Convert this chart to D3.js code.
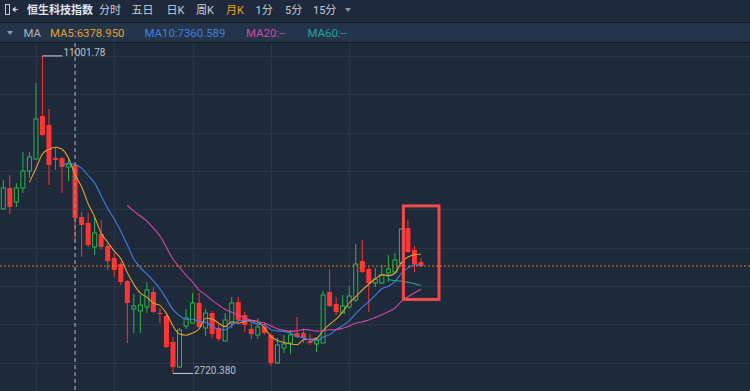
<!DOCTYPE html>
<html>
<head>
<meta charset="utf-8">
<script src="https://cdn.jsdelivr.net/npm/d3@7"></script>
<style>
  body { margin: 0; background: #1e293a; }
  svg { display: block; }
</style>
</head>
<body>
<div id="chart"></div>
<script>
const width = 750, height = 391;

// monthly candles, Aug 2020 - Dec 2025
const months = [
  "2020-08","2020-09","2020-10","2020-11","2020-12",
  "2021-01","2021-02","2021-03","2021-04","2021-05","2021-06","2021-07","2021-08","2021-09","2021-10","2021-11","2021-12",
  "2022-01","2022-02","2022-03","2022-04","2022-05","2022-06","2022-07","2022-08","2022-09","2022-10","2022-11","2022-12",
  "2023-01","2023-02","2023-03","2023-04","2023-05","2023-06","2023-07","2023-08","2023-09","2023-10","2023-11","2023-12",
  "2024-01","2024-02","2024-03","2024-04","2024-05","2024-06","2024-07","2024-08","2024-09","2024-10","2024-11","2024-12",
  "2025-01","2025-02","2025-03","2025-04","2025-05","2025-06","2025-07","2025-08","2025-09","2025-10","2025-11","2025-12"
];
const open  = [7009,7557,7192,7557,8000, 8313,9435,9200,8339,8339,8105,8157,6800,6644,6018,6357,6044,
  5731,5574,5131,4401,4348,4453,4844,4296,4218,3540,2888,3957, 4035,4557,3905,4296,3905,3566,4035,4583,4244,3879,3722,3931,
  3722,2992,3383,3514,3774,3774,3566,3488,3514,4844,4531,4296, 4453,4635,5652,5444,5079,5079,5340,5366,5600,6513,5940,5626];
const high  = [7765,7896,7687,8496,8496, 10295,11001.78,9617,8600,8365,8313,8183,6931,6904,6774,6722,6122,
  5861,5626,5157,4792,4766,5105,4974,4427,4270,3670,3905,4401, 4818,4818,4401,4348,4009,4296,4714,4714,4322,4062,4166,4062,
  3774,3644,3722,3853,4192,3853,3748,3670,4870,5444,4714,4766, 5000,6096,6200,5496,5470,5548,5809,5861,6513,6722,6044,5731];
const low   = [6983,6878,7061,7426,7817, 8287,8900,7635,8026,7426,7739,6148,5757,6018,5809,5940,5418,
  5235,5027,3514,3774,3774,4296,4296,4035,3383,2720.38,2862,3879, 4035,3905,3696,3644,3566,3566,3905,4035,3801,3618,3618,3722,
  2914,2966,3253,3227,3644,3514,3462,3279,3514,4453,4244,4296, 4401,4583,5340,4322,4974,5053,5105,5340,5574,5861,5366,5496];
const close = [7557,7061,7557,8000,8365, 9356,8939,8157,8287,8105,8183,6774,6592,6070,6383,6018,5652,
  5418,5105,4557,4479,4505,4896,4322,4270,3409,2888,3853,4166, 4557,3931,4296,3748,3618,4114,4557,4114,3983,3748,3931,3774,
  2992,3462,3488,3722,3670,3644,3514,3592,4766,4479,4322,4479, 4740,5574,5366,5079,5183,5287,5444,5679,6487,5887,5574,5522];

const gridValues = [3000,4000,5000,6000,7000,8000,9000,10000,11000];
const maPeriods = [5, 10, 20, 60];
const maColors = ["#e2a132", "#3f7fe6", "#cf4aa6", "#26a39c"];
const maLabels = ["MA5:6378.950", "MA10:7360.589", "MA20:--", "MA60:--"];
const tabs = ["分时","五日","日K","周K","月K","1分","5分","15分"];
const crossMonth = "2021-07";
const boxFrom = "2025-09", boxTo = "2025-12", boxTop = 7090, boxBottom = 4650;

const upColor = "#2fb44c", downColor = "#ff3434", bg = "#1e293a";

const svg = d3.select("#chart").append("svg")
  .attr("width", width).attr("height", height)
  .style("font-family", "Roboto, 'Noto Sans CJK SC', sans-serif");

// header bars
svg.append("rect").attr("width", width).attr("height", 22).attr("fill", "#1e2a3b");
svg.append("rect").attr("y", 23).attr("width", width).attr("height", 19).attr("fill", "#243449");
svg.append("rect").attr("y", 22).attr("width", width).attr("height", 1).attr("fill", "#141b27");
svg.append("rect").attr("y", 42).attr("width", width).attr("height", 1).attr("fill", "#141b27");
svg.append("rect").attr("y", 43).attr("width", width).attr("height", height - 43).attr("fill", bg);

// back icon
svg.append("rect").attr("x", 5.5).attr("y", 4.5).attr("width", 4).attr("height", 10)
  .attr("fill", "none").attr("stroke", "#c9ced6");
svg.append("path").attr("d", "M12,9.5 L15.5,6.5 L15.5,12.5 Z M15,9 h3 v1 h-3 Z").attr("fill", "#c9ced6");

svg.append("text").attr("x", 27).attr("y", 13.5)
  .attr("fill", "#e1e5eb").attr("font-size", 11).attr("font-weight", "bold")
  .attr("font-family", "'Noto Sans CJK SC', sans-serif")
  .text("恒生科技指数");

const tabX = [99, 131.5, 166.5, 196, 226, 255.5, 285, 313];
svg.selectAll(".tab").data(tabs).join("text")
  .attr("class", "tab")
  .attr("x", (d, i) => tabX[i]).attr("y", 13.5)
  .attr("font-size", 11)
  .attr("fill", d => d === "月K" ? "#f0a024" : "#c9ced6")
  .text(d => d);
svg.append("path").attr("d", "M345,8 h6 l-3,4 Z").attr("fill", "#8d96a4");

// MA legend row
svg.append("path").attr("d", "M7,31 h6 l-3,4 Z").attr("fill", "#8d96a4");
svg.append("text").attr("x", 23.5).attr("y", 36.5).attr("font-size", 11.4)
  .attr("fill", "#aeb6c2").text("MA");
const maX = [50, 144.5, 246, 307.5];
svg.selectAll(".malabel").data(maLabels).join("text")
  .attr("class", "malabel")
  .attr("x", (d, i) => maX[i]).attr("y", 36.5)
  .attr("font-size", 11.4)
  .attr("fill", (d, i) => maColors[i])
  .text(d => d);

// scales
const x = d3.scalePoint().domain(months).range([3.3, 421]);
const y = d3.scaleLinear().domain([3000, 11000]).range([362.7, 56]);

const plot = svg.append("g");

// grid
plot.selectAll(".hgrid").data(gridValues).join("line")
  .attr("x1", 0).attr("x2", width)
  .attr("y1", d => Math.round(y(d)) + 0.5).attr("y2", d => Math.round(y(d)) + 0.5)
  .attr("stroke", "#2a3749");
plot.selectAll(".vgrid").data(months.filter(m => m.endsWith("-01"))).join("line")
  .attr("x1", d => Math.round(x(d)) + 0.5).attr("x2", d => Math.round(x(d)) + 0.5)
  .attr("y1", 43).attr("y2", height)
  .attr("stroke", "#2a3749");

// candles
const candles = months.map((m, i) => ({ m, o: open[i], h: high[i], l: low[i], c: close[i] }));
const g = plot.selectAll(".candle").data(candles).join("g").attr("class", "candle");
g.append("line")
  .attr("x1", d => x(d.m)).attr("x2", d => x(d.m))
  .attr("y1", d => y(d.h)).attr("y2", d => y(d.l))
  .attr("stroke", d => d.c >= d.o ? upColor : downColor)
  .attr("stroke-width", 1);
g.append("rect")
  .attr("x", d => d.c >= d.o ? x(d.m) - 2 : x(d.m) - 2.5)
  .attr("width", d => d.c >= d.o ? 4 : 5)
  .attr("y", d => y(Math.max(d.o, d.c)))
  .attr("height", d => Math.max(1, Math.abs(y(d.o) - y(d.c))))
  .attr("fill", d => d.c >= d.o ? bg : downColor)
  .attr("stroke", d => d.c >= d.o ? upColor : "none")
  .attr("stroke-width", 1);

// moving averages
maPeriods.forEach((n, k) => {
  const vals = close.map((c, i) => i < n - 1 ? null : d3.mean(close.slice(i - n + 1, i + 1)));
  const line = d3.line()
    .defined(d => d[1] != null)
    .x(d => x(d[0]))
    .y(d => y(d[1]))
    .curve(d3.curveMonotoneX);
  plot.append("path")
    .datum(months.map((m, i) => [m, vals[i]]))
    .attr("d", line)
    .attr("fill", "none")
    .attr("stroke", maColors[k])
    .attr("stroke-width", 1.1);
});

// last price line
const last = close[close.length - 1];
plot.append("line")
  .attr("x1", 0).attr("x2", width)
  .attr("y1", y(last)).attr("y2", y(last))
  .attr("stroke", "#e07d14").attr("stroke-dasharray", "2,2");

// crosshair
plot.append("line")
  .attr("x1", x(crossMonth)).attr("x2", x(crossMonth))
  .attr("y1", 43).attr("y2", height)
  .attr("stroke", "#808b9b").attr("stroke-width", 1.5).attr("stroke-dasharray", "4,3");

// high / low marks
const hi = d3.maxIndex(high), lo = d3.minIndex(low);
plot.append("line")
  .attr("x1", x(months[hi])).attr("x2", x(months[hi]) + 20)
  .attr("y1", y(high[hi])).attr("y2", y(high[hi]))
  .attr("stroke", "#d0d5dc");
plot.append("text")
  .attr("x", x(months[hi]) + 21).attr("y", y(high[hi]))
  .attr("font-size", 10).attr("fill", "#b9c1cc")
  .text(high[hi].toFixed(2));
plot.append("line")
  .attr("x1", x(months[lo])).attr("x2", x(months[lo]) + 20)
  .attr("y1", y(low[lo])).attr("y2", y(low[lo]))
  .attr("stroke", "#d0d5dc");
plot.append("text")
  .attr("x", x(months[lo]) + 21).attr("y", y(low[lo]) + 1)
  .attr("font-size", 10).attr("fill", "#b9c1cc")
  .text(low[lo].toFixed(3));

// highlight box
plot.append("rect")
  .attr("x", x(boxFrom) + 2)
  .attr("y", y(boxTop))
  .attr("width", x(boxTo) + 18 - (x(boxFrom) + 2))
  .attr("height", y(boxBottom) - y(boxTop))
  .attr("fill", "none")
  .attr("stroke", "#f04a4a")
  .attr("stroke-width", 3);
</script>
</body>
</html>
